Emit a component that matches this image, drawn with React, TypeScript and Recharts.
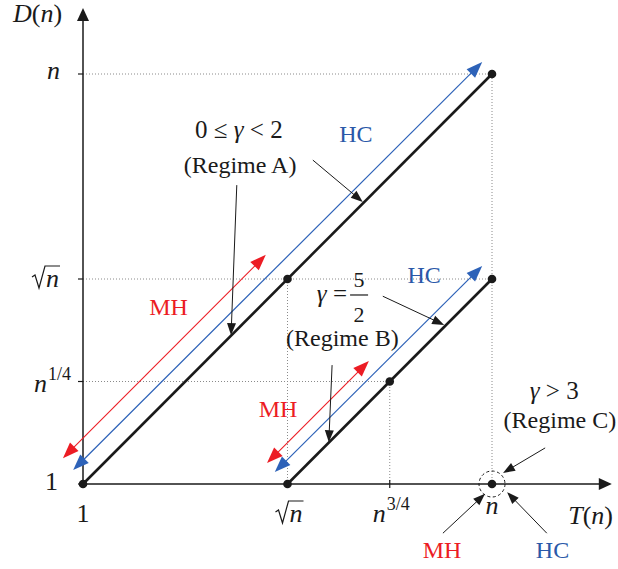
import React from 'react';
import { ComposedChart, XAxis, YAxis, Line, Scatter, ReferenceLine, ReferenceDot } from 'recharts';

// exponents of n on log axes
const xTicks = [0, 0.5, 0.75, 1];
const xTickLabels = ['1', '√n', 'n^3/4', 'n'];
const yTicks = [0, 0.25, 0.5, 1];
const yTickLabels = ['1', 'n^1/4', '√n', 'n'];

const regimeA = [{ x: 0, y: 0 }, { x: 1, y: 1 }];
const regimeB = [{ x: 0.5, y: 0 }, { x: 1, y: 0.5 }];
const keyPoints = [
  { x: 0, y: 0 }, { x: 1, y: 1 }, { x: 0.5, y: 0.5 }, { x: 0.5, y: 0 },
  { x: 1, y: 0.5 }, { x: 0.75, y: 0.25 }, { x: 1, y: 0 },
];
const regimeCPoint = { x: 1, y: 0 };

const hcArrows = [
  [{ x: -0.024, y: 0.034 }, { x: 0.976, y: 1.029 }],
  [{ x: 0.469, y: 0.029 }, { x: 0.976, y: 0.532 }],
];
const mhArrows = [
  [{ x: -0.049, y: 0.063 }, { x: 0.447, y: 0.559 }],
  [{ x: 0.45, y: 0.051 }, { x: 0.699, y: 0.3 }],
];
const pointerArrows = [
  [{ x: 0.376, y: 0.729 }, { x: 0.362, y: 0.363 }],
  [{ x: 0.562, y: 0.79 }, { x: 0.684, y: 0.688 }],
  [{ x: 0.733, y: 0.458 }, { x: 0.883, y: 0.388 }],
  [{ x: 0.609, y: 0.29 }, { x: 0.601, y: 0.102 }],
  [{ x: 1.13, y: 0.088 }, { x: 1.027, y: 0.027 }],
  [{ x: 0.88, y: -0.12 }, { x: 0.983, y: -0.024 }],
  [{ x: 1.134, y: -0.12 }, { x: 1.037, y: -0.02 }],
];
const gridSegments = [
  [{ x: 0, y: 1 }, { x: 1, y: 1 }],
  [{ x: 0, y: 0.5 }, { x: 1, y: 0.5 }],
  [{ x: 0, y: 0.25 }, { x: 0.75, y: 0.25 }],
  [{ x: 0.5, y: 0 }, { x: 0.5, y: 0.5 }],
  [{ x: 0.75, y: 0 }, { x: 0.75, y: 0.25 }],
  [{ x: 1, y: 0 }, { x: 1, y: 1 }],
];
const axisSegments = [
  [{ x: 0, y: 0 }, { x: 1.293, y: 0 }],
  [{ x: 0, y: 0 }, { x: 0, y: 1.161 }],
];

const textLabels = [
  { x: -0.111, y: 1.127, text: 'D(n)', kind: 'axis', color: 'black' },
  { x: 1.241, y: -0.098, text: 'T(n)', kind: 'axis', color: 'black' },
  { x: 0.381, y: 0.844, text: '0 ≤ γ < 2', kind: 'math', color: 'black' },
  { x: 0.384, y: 0.759, text: '(Regime A)', kind: 'text', color: 'black' },
  { x: 0.667, y: 0.834, text: 'HC', kind: 'text', color: 'blue' },
  { x: 0.209, y: 0.412, text: 'MH', kind: 'text', color: 'red' },
  { x: 0.834, y: 0.49, text: 'HC', kind: 'text', color: 'blue' },
  { x: 0.634, y: 0.337, text: '(Regime B)', kind: 'text', color: 'black' },
  { x: 0.477, y: 0.163, text: 'MH', kind: 'text', color: 'red' },
  { x: 1.152, y: 0.207, text: 'γ > 3', kind: 'math', color: 'black' },
  { x: 1.166, y: 0.137, text: '(Regime C)', kind: 'text', color: 'black' },
  { x: 0.878, y: -0.18, text: 'MH', kind: 'text', color: 'red' },
  { x: 1.148, y: -0.18, text: 'HC', kind: 'text', color: 'blue' },
];
const fractionLabel = { x: 0.675, y: 0.461, lhs: 'γ =', num: '5', den: '2' };

const FONT = '"Liberation Serif", "Times New Roman", serif';
const COLORS: Record<string, string> = { black: '#1a1a1a', blue: '#2a58a8', red: '#ec1c24' };
const BLUE_LINE = '#2d62b8';
const RED_LINE = '#ec1c24';

function rich(text: string, italic: string) {
  const parts: { s: string; it: boolean }[] = [];
  for (const ch of text) {
    const it = italic.includes(ch);
    const last = parts[parts.length - 1];
    if (last && last.it === it) last.s += ch;
    else parts.push({ s: ch, it });
  }
  return parts.map((p, i) => (
    <tspan key={i} fontStyle={p.it ? 'italic' : 'normal'}>{p.s}</tspan>
  ));
}

function arrowHead(tx: number, ty: number, ux: number, uy: number, len: number, hw: number, color: string) {
  const bx = tx - ux * len;
  const by = ty - uy * len;
  const px = -uy;
  const py = ux;
  return (
    <polygon
      points={`${tx},${ty} ${bx + px * hw},${by + py * hw} ${bx - px * hw},${by - py * hw}`}
      fill={color}
      stroke="none"
    />
  );
}

function ArrowShape(props: any) {
  const { x1, y1, x2, y2, color, width, len, hw, both, dash } = props;
  const dx = x2 - x1;
  const dy = y2 - y1;
  const d = Math.sqrt(dx * dx + dy * dy) || 1;
  const ux = dx / d;
  const uy = dy / d;
  const sx = both ? x1 + ux * len * 0.8 : x1;
  const sy = both ? y1 + uy * len * 0.8 : y1;
  const ex = len ? x2 - ux * len * 0.8 : x2;
  const ey = len ? y2 - uy * len * 0.8 : y2;
  return (
    <g>
      <line x1={sx} y1={sy} x2={ex} y2={ey} stroke={color} strokeWidth={width} strokeDasharray={dash} />
      {len ? arrowHead(x2, y2, ux, uy, len, hw, color) : null}
      {both ? arrowHead(x1, y1, -ux, -uy, len, hw, color) : null}
    </g>
  );
}

function MathTick(props: { x: number; b: number; label: string; anchor: 'middle' | 'end' }) {
  const { x, b, label, anchor } = props;
  const fs = 26;
  if (label === '√n') {
    const w = 28;
    const x0 = anchor === 'middle' ? x - w / 2 : x - w;
    return (
      <g>
        <path
          d={`M${x0},${b - 10} L${x0 + 3},${b - 12} L${x0 + 7},${b + 1} L${x0 + 13},${b - 21} L${x0 + 28},${b - 21}`}
          fill="none"
          stroke="#1a1a1a"
          strokeWidth={1.2}
        />
        <text x={x0 + 14} y={b} fontFamily={FONT} fontSize={fs} fontStyle="italic" fill="#1a1a1a">n</text>
      </g>
    );
  }
  if (label.includes('^')) {
    const [base, sup] = label.split('^');
    const w = 36;
    const x0 = anchor === 'middle' ? x - w / 2 : x - w;
    return (
      <g>
        <text x={x0} y={b} fontFamily={FONT} fontSize={fs} fontStyle="italic" fill="#1a1a1a">{base}</text>
        <text x={x0 + 14} y={b - 12} fontFamily={FONT} fontSize={18} fill="#1a1a1a">{sup}</text>
      </g>
    );
  }
  return (
    <text x={x} y={b} textAnchor={anchor} fontFamily={FONT} fontSize={fs} fontStyle={label === 'n' ? 'italic' : 'normal'} fill="#1a1a1a">
      {label}
    </text>
  );
}

function XTickShape(props: any) {
  const { cx, cy, label } = props;
  const isN = label === 'n';
  const isSqrt = label === '√n';
  const b = cy + (isN ? 30 : 38);
  return (
    <g>
      <line x1={cx} y1={cy - 4} x2={cx} y2={cy + 4} stroke="#1a1a1a" strokeWidth={1.2} />
      <MathTick x={cx + (isSqrt ? 2 : 0) + (label.includes('^') ? 1 : 0)} b={b} label={label} anchor="middle" />
    </g>
  );
}

function YTickShape(props: any) {
  const { cx, cy, label } = props;
  const pow = label.includes('^');
  const off = pow ? 10 : label === '√n' ? 8 : label === 'n' ? 5 : 6;
  const right = pow ? cx - 13 : label === '1' ? cx - 25 : cx - 23;
  return (
    <g>
      <line x1={cx - 5} y1={cy} x2={cx} y2={cy} stroke="#1a1a1a" strokeWidth={1.2} />
      <MathTick x={right} b={cy + off} label={label} anchor="end" />
    </g>
  );
}

function TextShape(props: any) {
  const { cx, cy, item } = props;
  const isMath = item.kind !== 'text';
  const size = item.kind === 'axis' ? 26 : item.kind === 'math' ? 25 : 24;
  return (
    <text x={cx} y={cy} textAnchor="middle" fontFamily={FONT} fontSize={size} fill={COLORS[item.color]}>
      {isMath ? rich(item.text, 'γnDT') : item.text}
    </text>
  );
}

function FractionShape(props: any) {
  const { cx, cy, item } = props;
  return (
    <g fontFamily={FONT} fill="#1a1a1a">
      <text x={cx - 12} y={cy + 7} textAnchor="end" fontSize={25}>{rich(item.lhs, 'γ')}</text>
      <text x={cx} y={cy - 8} textAnchor="middle" fontSize={22}>{item.num}</text>
      <line x1={cx - 9} y1={cy} x2={cx + 9} y2={cy} stroke="#1a1a1a" strokeWidth={1.2} />
      <text x={cx} y={cy + 27} textAnchor="middle" fontSize={22}>{item.den}</text>
    </g>
  );
}

export default function App() {
  return (
    <div style={{ position: 'absolute', left: 0, top: 0, width: 618, height: 569, background: '#fff' }}>
      <ComposedChart width={618} height={569} margin={{ top: 4.3, right: 3.3, bottom: 3, left: 1.2 }}>
        <XAxis type="number" dataKey="x" domain={[-0.2, 1.3]} allowDataOverflow hide />
        <YAxis type="number" dataKey="y" domain={[-0.2, 1.17]} allowDataOverflow hide />

        {gridSegments.map((s, i) => (
          <ReferenceLine
            key={`g${i}`}
            segment={s}
            ifOverflow="visible"
            shape={(p: any) => <ArrowShape {...p} color="#8a8a8a" width={1} len={0} hw={0} both={false} dash="1 2" />}
          />
        ))}

        {axisSegments.map((s, i) => (
          <ReferenceLine
            key={`a${i}`}
            segment={s}
            ifOverflow="visible"
            shape={(p: any) => <ArrowShape {...p} color="#1a1a1a" width={1.5} len={13} hw={6} both={false} />}
          />
        ))}

        {hcArrows.map((s, i) => (
          <ReferenceLine
            key={`hc${i}`}
            segment={s}
            ifOverflow="visible"
            shape={(p: any) => <ArrowShape {...p} color={BLUE_LINE} width={1.2} len={16} hw={6} both />}
          />
        ))}
        {mhArrows.map((s, i) => (
          <ReferenceLine
            key={`mh${i}`}
            segment={s}
            ifOverflow="visible"
            shape={(p: any) => <ArrowShape {...p} color={RED_LINE} width={1.1} len={16} hw={6} both />}
          />
        ))}
        {pointerArrows.map((s, i) => (
          <ReferenceLine
            key={`pa${i}`}
            segment={s}
            ifOverflow="visible"
            shape={(p: any) => <ArrowShape {...p} color="#1a1a1a" width={1} len={12} hw={4.5} both={false} />}
          />
        ))}

        <Line data={regimeA} dataKey="y" stroke="#1a1a1a" strokeWidth={2.6} dot={false} isAnimationActive={false} />
        <Line data={regimeB} dataKey="y" stroke="#1a1a1a" strokeWidth={2.6} dot={false} isAnimationActive={false} />
        <Scatter
          data={keyPoints}
          isAnimationActive={false}
          shape={(p: any) => <circle cx={p.cx} cy={p.cy} r={4.3} fill="#1a1a1a" />}
        />
        <ReferenceDot
          x={regimeCPoint.x}
          y={regimeCPoint.y}
          ifOverflow="visible"
          shape={(p: any) => (
            <circle cx={p.cx} cy={p.cy} r={13} fill="none" stroke="#1a1a1a" strokeWidth={1} strokeDasharray="3 2.5" />
          )}
        />

        {xTicks.map((t, i) => (
          <ReferenceDot key={`xt${i}`} x={t} y={0} ifOverflow="visible" shape={(p: any) => <XTickShape {...p} label={xTickLabels[i]} />} />
        ))}
        {yTicks.map((t, i) => (
          <ReferenceDot key={`yt${i}`} x={0} y={t} ifOverflow="visible" shape={(p: any) => <YTickShape {...p} label={yTickLabels[i]} />} />
        ))}
        {textLabels.map((l, i) => (
          <ReferenceDot key={`tl${i}`} x={l.x} y={l.y} ifOverflow="visible" shape={(p: any) => <TextShape {...p} item={l} />} />
        ))}
        <ReferenceDot
          x={fractionLabel.x}
          y={fractionLabel.y}
          ifOverflow="visible"
          shape={(p: any) => <FractionShape {...p} item={fractionLabel} />}
        />
      </ComposedChart>
    </div>
  );
}
